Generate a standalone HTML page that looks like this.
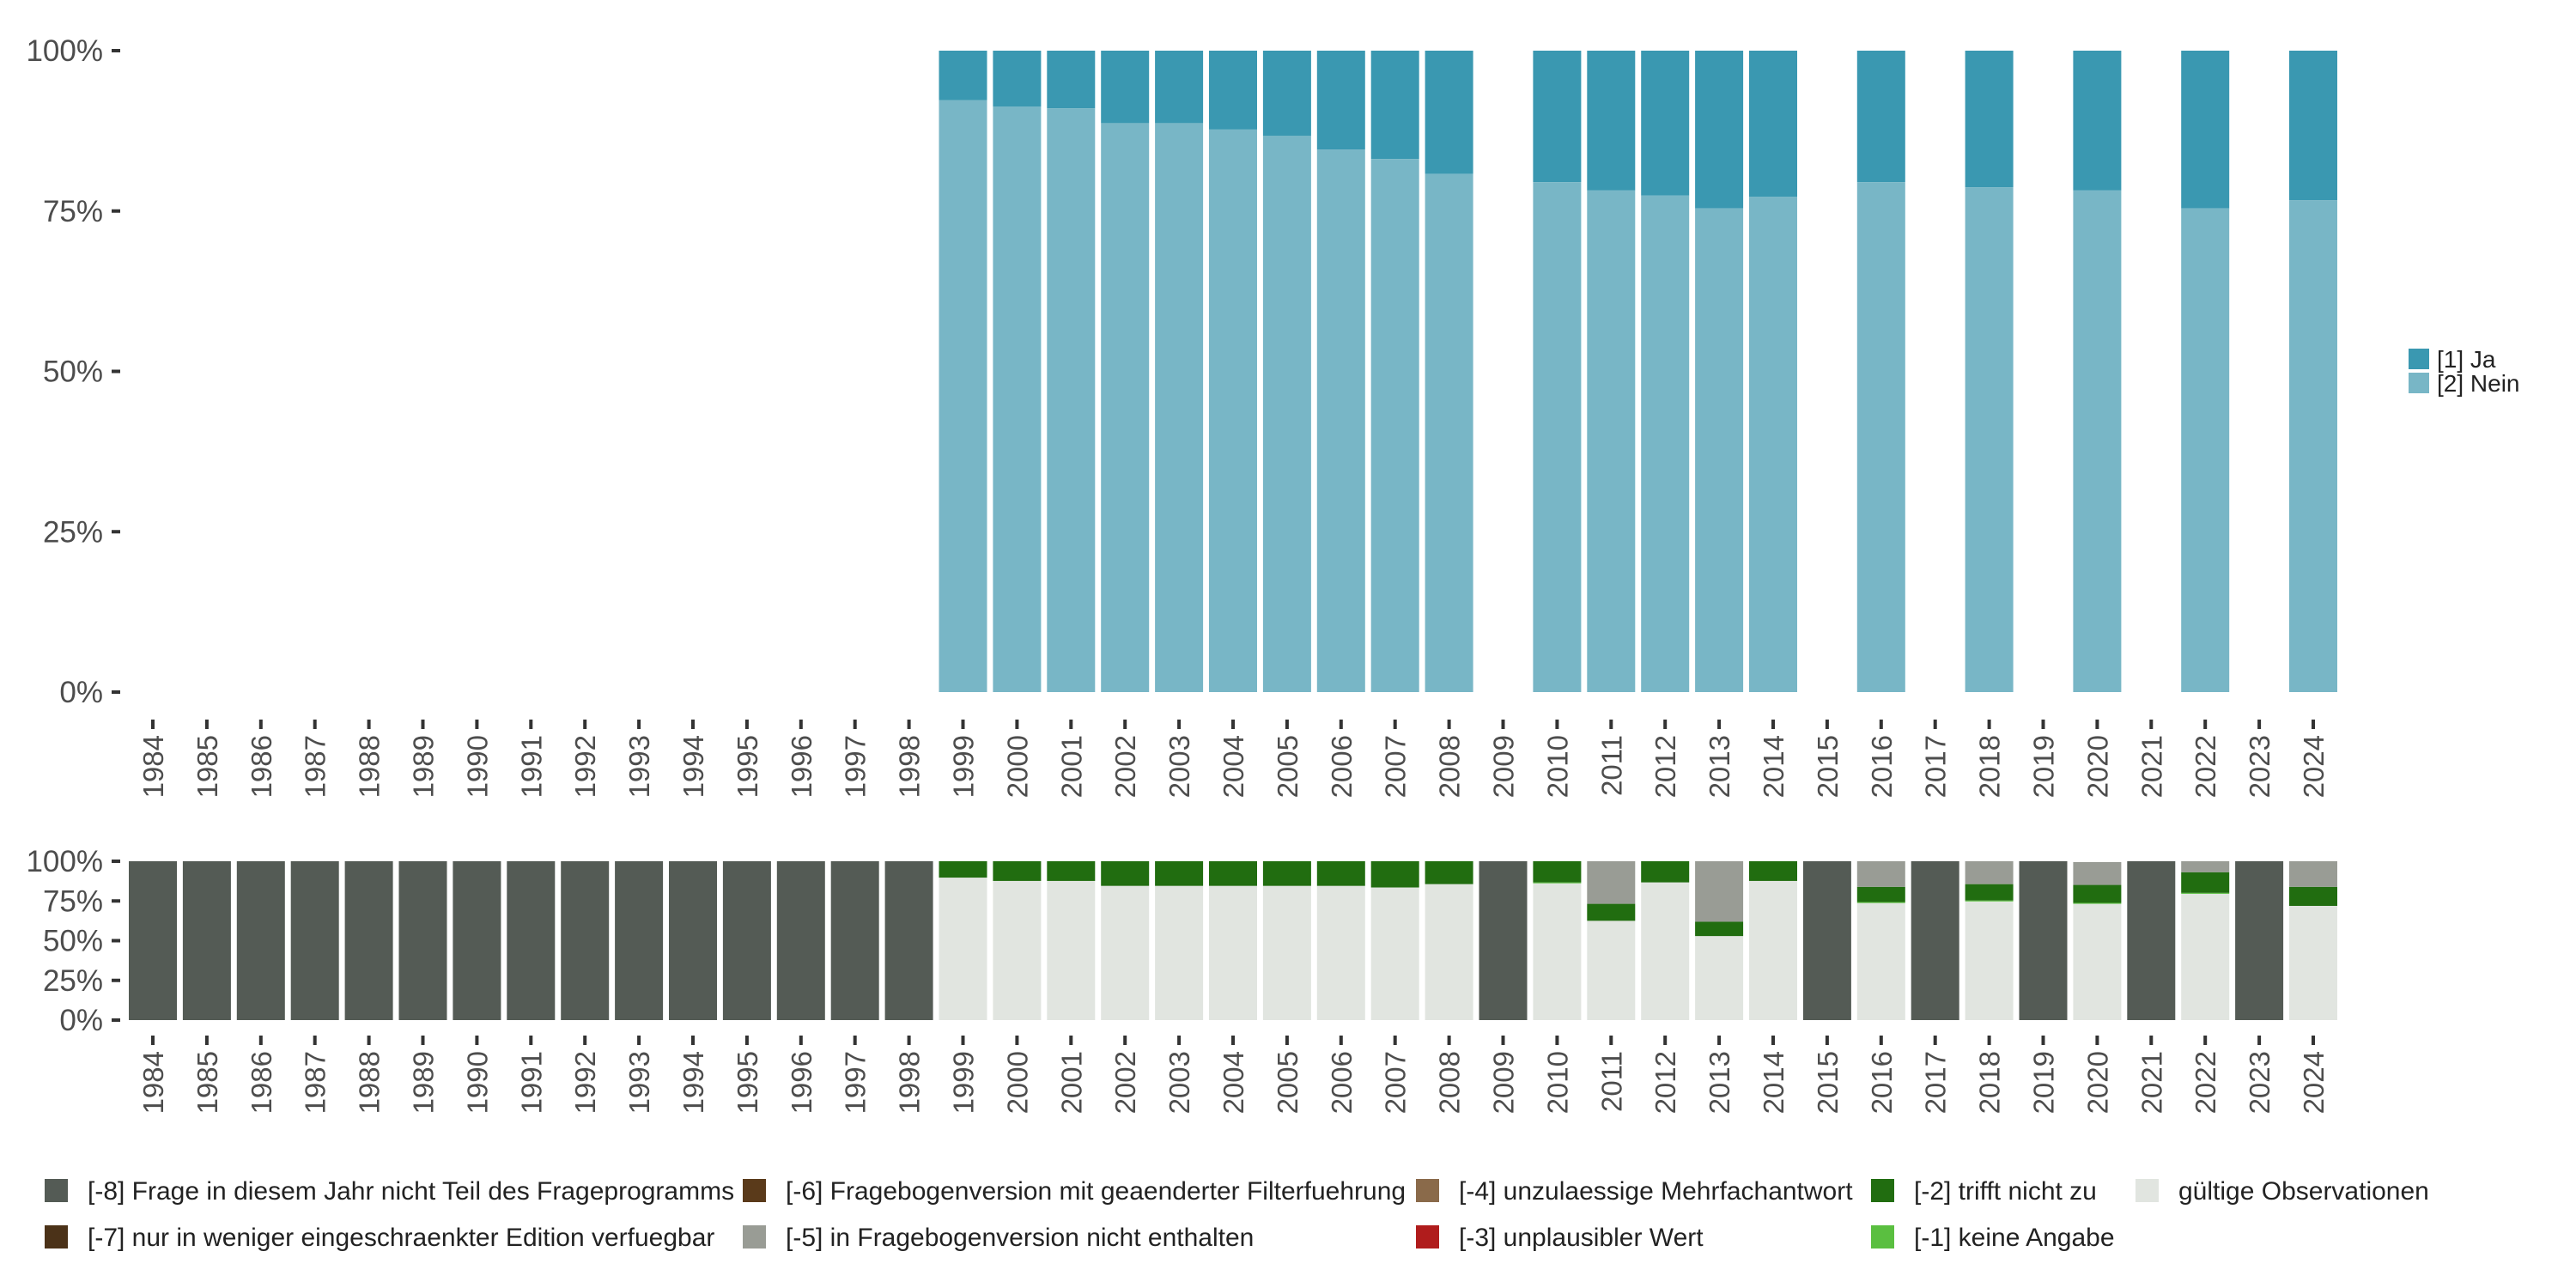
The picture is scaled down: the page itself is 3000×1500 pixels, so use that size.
<!DOCTYPE html>
<html><head><meta charset="utf-8"><style>
html,body{margin:0;padding:0;background:#fff;}
svg{display:block;font-family:"Liberation Sans",sans-serif;}
</style></head><body>
<svg id="c" width="3000" height="1500" viewBox="0 0 3000 1500" xmlns="http://www.w3.org/2000/svg"></svg>
<script>
const years = [];
for (let y = 1984; y <= 2024; y++) years.push(y);
const topYears = [1999,2000,2001,2002,2003,2004,2005,2006,2007,2008,2010,2011,2012,2013,2014,2016,2018,2020,2022,2024];
const neinShare = [0.923,0.913,0.910,0.887,0.887,0.877,0.867,0.846,0.831,0.808,0.795,0.782,0.774,0.754,0.772,0.795,0.787,0.782,0.754,0.767];
const surveyYears = [1999,2000,2001,2002,2003,2004,2005,2006,2007,2008,2010,2011,2012,2013,2014,2016,2018,2020,2022,2024];
const validShare = [0.897,0.876,0.876,0.845,0.845,0.845,0.845,0.845,0.835,0.856,0.861,0.625,0.867,0.529,0.876,0.737,0.747,0.732,0.795,0.719];
const keineAngabe = [0,0,0,0,0,0,0,0,0,0,0.006,0,0,0,0,0.006,0.006,0.006,0.006,0];
const trifftNicht = [0.103,0.124,0.124,0.155,0.155,0.155,0.155,0.155,0.165,0.144,0.133,0.107,0.133,0.090,0.124,0.096,0.103,0.113,0.130,0.120];
const nichtEnthalten = [0,0,0,0,0,0,0,0,0,0,0,0.268,0,0.381,0,0.161,0.144,0.144,0.069,0.161];
const pctTicks = [0,0.25,0.5,0.75,1];
const pctLabels = ["0%","25%","50%","75%","100%"];

const svg = document.getElementById('c');
const NS = 'http://www.w3.org/2000/svg';
function mk(tag, attrs, parent){const e=document.createElementNS(NS,tag);for(const k in attrs)e.setAttribute(k,attrs[k]);(parent||svg).appendChild(e);return e;}
const x = y => 178 + (y-1984)*62.9;
const BW = 56;
const yTop = v => 806 - v*(806-59);
const yBot = v => 1188 - v*(1188-1003);

function axes(yf, tickY, labY, pre){
  pctTicks.forEach((t,i)=>{
    mk('line',{x1:130,x2:140,y1:yf(t),y2:yf(t),stroke:'#333','stroke-width':4});
    const tx=mk('text',{x:120,y:yf(t)+12,'text-anchor':'end','font-size':35,fill:'#4d4d4d'});
    tx.textContent=pctLabels[i];
    
    
  });
  years.forEach(yr=>{
    mk('line',{x1:x(yr),x2:x(yr),y1:tickY,y2:tickY+11,stroke:'#333','stroke-width':4});
    const tx=mk('text',{x:0,y:0,'text-anchor':'end','font-size':33,fill:'#4d4d4d',transform:`translate(${x(yr)+12},${labY}) rotate(-90)`});
    tx.textContent=yr;
    
    
  });
}
axes(yTop, 838, 856, 'top');
axes(yBot, 1206, 1224, 'bottom');

topYears.forEach((yr,i)=>{
  const n=neinShare[i];
  const r1=mk('rect',{x:x(yr)-BW/2,y:yTop(1),width:BW,height:yTop(n)-yTop(1),fill:'#3a98b1'});
  
  
  const r2=mk('rect',{x:x(yr)-BW/2,y:yTop(n),width:BW,height:yTop(0)-yTop(n),fill:'#78b6c6'});
  
  
});
[['[1] Ja','#3a98b1'],['[2] Nein','#78b6c6']].forEach((l,i)=>{
  const g=mk('g',{});
  
  
  mk('rect',{x:2805,y:406+i*28,width:24,height:24,fill:l[1]},g);
  const t=mk('text',{x:2838,y:428+i*28,'font-size':28,fill:'#222'},g);t.textContent=l[0];
});

years.forEach(yr=>{
  const i=surveyYears.indexOf(yr);
  let segs;
  if(i<0) segs=[[1,'#545b55','missing-year']];
  else segs=[[validShare[i],'#e1e5e0','valid'],[keineAngabe[i],'#5abf40','keine-angabe'],[trifftNicht[i],'#216d10','trifft-nicht-zu'],[nichtEnthalten[i],'#999c95','nicht-enthalten']];
  let cum=0;
  segs.forEach(s=>{
    if(s[0]<=0)return;
    const top=Math.min(1,cum+s[0]);
    const r=mk('rect',{x:x(yr)-BW/2,y:yBot(top),width:BW,height:yBot(cum)-yBot(top),fill:s[1]});
    
    
    cum=top;
  });
});

const legItems=[
 ['[-8] Frage in diesem Jahr nicht Teil des Frageprogramms','#545b55',52,0],
 ['[-7] nur in weniger eingeschraenkter Edition verfuegbar','#4b3218',52,1],
 ['[-6] Fragebogenversion mit geaenderter Filterfuehrung','#5a3a1a',865,0],
 ['[-5] in Fragebogenversion nicht enthalten','#999c95',865,1],
 ['[-4] unzulaessige Mehrfachantwort','#8a6a4a',1649,0],
 ['[-3] unplausibler Wert','#b01c1c',1649,1],
 ['[-2] trifft nicht zu','#216d10',2179,0],
 ['[-1] keine Angabe','#5abf40',2179,1],
 ['gültige Observationen','#e1e5e0',2487,0]
];
legItems.forEach(l=>{
  const g=mk('g',{});
  
  
  const cy=1386+l[3]*54;
  mk('rect',{x:l[2],y:cy-13,width:27,height:27,fill:l[1]},g);
  const t=mk('text',{x:l[2]+50,y:cy+11,'font-size':30,fill:'#222'},g);t.textContent=l[0];
});
</script>
</body></html>
